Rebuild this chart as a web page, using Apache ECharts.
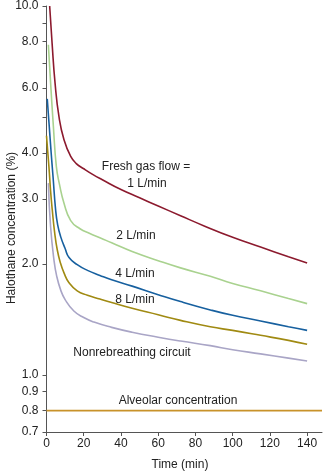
<!DOCTYPE html>
<html>
<head>
<meta charset="utf-8">
<script src="https://cdn.jsdelivr.net/npm/echarts@6/dist/echarts.min.js"></script>
<style>
html,body{margin:0;padding:0;background:#fff;}
#chart{width:325px;height:472px;}
</style>
</head>
<body>
<div id="chart"></div>
<script>
// ---- data ----
var xTicks = [0, 20, 40, 60, 80, 100, 120, 140];
var yLabelValues = [0.7, 0.8, 0.9, 1.0, 2.0, 3.0, 4.0, 6.0, 8.0, 10.0];
var yTickValues = [0.7, 0.8, 0.9, 1, 2, 3, 4, 5, 6, 7, 8, 9, 10];

var redT = [1.7, 3, 4.6, 6.7, 9.4, 13, 16, 20, 25, 30, 40, 50, 60, 72, 85, 100, 115, 130, 140];
var redV = [10.0, 7.93, 6.18, 5.01, 4.34, 3.91, 3.74, 3.62, 3.49, 3.38, 3.18, 3.02, 2.87, 2.70, 2.53, 2.36, 2.22, 2.09, 2.01];

var greenT = [1.0, 2.2, 3.7, 5.3, 7, 9.4, 13, 18, 23, 29, 35, 46, 60, 72, 88, 100, 115, 130, 140];
var greenV = [7.85, 6.2, 4.71, 3.67, 3.28, 2.92, 2.62, 2.49, 2.42, 2.35, 2.28, 2.16, 2.04, 1.95, 1.85, 1.77, 1.69, 1.61, 1.56];

var blueT = [0.4, 1.5, 2.5, 3.5, 4.9, 6, 7.6, 10, 12.1, 16.5, 22, 28.7, 35, 46, 60, 72, 88, 100, 115, 130, 140];
var blueV = [5.6, 4.7, 4.0, 3.45, 2.80, 2.55, 2.37, 2.2, 2.08, 1.99, 1.92, 1.86, 1.81, 1.74, 1.65, 1.58, 1.50, 1.45, 1.40, 1.35, 1.32];

var oliveT = [0, 1.3, 2.2, 3.1, 4.3, 5.8, 7.5, 9.4, 12, 16.5, 22, 28.7, 35, 46, 60, 72, 88, 100, 115, 130, 140];
var oliveV = [4.45, 3.67, 3.15, 2.80, 2.45, 2.18, 2.01, 1.89, 1.78, 1.69, 1.645, 1.605, 1.57, 1.515, 1.455, 1.405, 1.35, 1.32, 1.28, 1.24, 1.21];

var lavT = [1.0, 2.2, 4.0, 5.5, 7.6, 10, 14.7, 20, 25.5, 35, 46, 60, 72, 88, 100, 115, 130, 140];
var lavV = [3.31, 2.52, 2.05, 1.85, 1.70, 1.60, 1.49, 1.43, 1.39, 1.345, 1.305, 1.265, 1.235, 1.20, 1.17, 1.14, 1.11, 1.09];

var alvT = [0, 148];
var alvV = [0.8, 0.8];

// ---- chart ----
function pairs(t, v) { return t.map(function (x, i) { return [x, v[i]]; }); }
var FONT = '"Liberation Sans", Arial, sans-serif';
var TXT = '#222';

function line(name, t, v, color, smooth) {
  return {
    name: name, type: 'line', data: pairs(t, v), showSymbol: false, symbol: 'none',
    smooth: smooth ? 0.5 : false,
    lineStyle: { color: color, width: 1.6 }, itemStyle: { color: color },
    animation: false, silent: true
  };
}

var chart = echarts.init(document.getElementById('chart'), null, { renderer: 'canvas' });
chart.setOption({
  backgroundColor: '#fff',
  animation: false,
  grid: { left: 46.5, right: 3, top: 6, bottom: 40, containLabel: false },
  xAxis: {
    type: 'value', min: 0, max: 148,
    axisLine: { lineStyle: { color: '#555', width: 1 } },
    axisTick: { show: true, length: 4, lineStyle: { color: '#555' }, customValues: xTicks },
    axisLabel: { color: TXT, fontSize: 12, fontFamily: FONT, margin: 6, customValues: xTicks },
    splitLine: { show: false }
  },
  yAxis: {
    type: 'log', logBase: 10, min: 0.7, max: 10,
    axisLine: { show: true, lineStyle: { color: '#555', width: 1 } },
    axisTick: { show: true, length: 4, lineStyle: { color: '#555' }, customValues: yTickValues },
    axisLabel: {
      color: TXT, fontSize: 12, fontFamily: FONT, margin: 8, customValues: yLabelValues,
      formatter: function (v) { return Number(v).toFixed(1); }
    },
    splitLine: { show: false }, minorTick: { show: false }
  },
  series: [
    line('Alveolar', alvT, alvV, '#c8922a', false),
    line('Nonrebreathing', lavT, lavV, '#a9a5c6', true),
    line('8 L/min', oliveT, oliveV, '#a08a12', true),
    line('4 L/min', blueT, blueV, '#17609f', true),
    line('2 L/min', greenT, greenV, '#a9d28f', true),
    line('1 L/min', redT, redV, '#8c1a2e', true)
  ],
  graphic: [
    { type: 'text', x: 12, y: 228, rotation: Math.PI / 2, style: { text: 'Halothane concentration (%)', fill: TXT, font: '12px ' + FONT, align: 'center', verticalAlign: 'middle' } },
    { type: 'text', x: 180, y: 465, style: { text: 'Time (min)', fill: TXT, font: '12px ' + FONT, align: 'center', verticalAlign: 'middle' } },
    { type: 'text', x: 146, y: 167, style: { text: 'Fresh gas flow =', fill: TXT, font: '12px ' + FONT, align: 'center', verticalAlign: 'middle' } },
    { type: 'text', x: 147, y: 184, style: { text: '1 L/min', fill: TXT, font: '12px ' + FONT, align: 'center', verticalAlign: 'middle' } },
    { type: 'text', x: 136, y: 236, style: { text: '2 L/min', fill: TXT, font: '12px ' + FONT, align: 'center', verticalAlign: 'middle' } },
    { type: 'text', x: 135, y: 274, style: { text: '4 L/min', fill: TXT, font: '12px ' + FONT, align: 'center', verticalAlign: 'middle' } },
    { type: 'text', x: 135, y: 300, style: { text: '8 L/min', fill: TXT, font: '12px ' + FONT, align: 'center', verticalAlign: 'middle' } },
    { type: 'text', x: 132, y: 353, style: { text: 'Nonrebreathing circuit', fill: TXT, font: '12px ' + FONT, align: 'center', verticalAlign: 'middle' } },
    { type: 'text', x: 178, y: 401, style: { text: 'Alveolar concentration', fill: TXT, font: '12px ' + FONT, align: 'center', verticalAlign: 'middle' } }
  ]
});
</script>
</body>
</html>
